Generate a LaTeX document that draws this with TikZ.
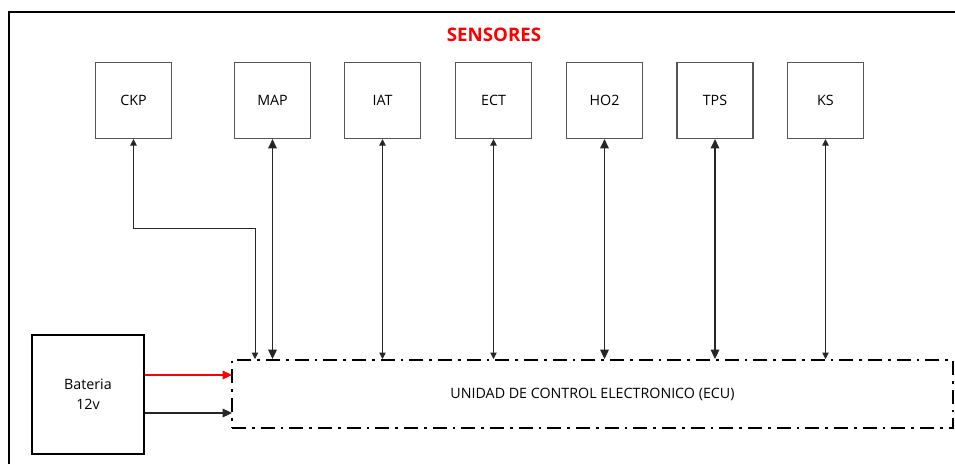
\documentclass[tikz,border=0pt]{standalone}
\usepackage{fontspec}
\setmainfont{Open Sans}
\usepackage{tikz}
\usetikzlibrary{arrows.meta,positioning}
\definecolor{red}{RGB}{255,0,0}
\definecolor{boxgray}{RGB}{85,85,85}

\begin{document}
\begin{tikzpicture}[x=0.75pt, y=-0.75pt,
    small/.style={{Triangle[length=4.8pt,width=4.8pt]}-{Triangle[length=4.8pt,width=4.8pt]}, line width=0.6pt, black!85},
    big/.style={{Triangle[length=7pt,width=6.5pt]}-{Triangle[length=7pt,width=6.5pt]}, line width=0.8pt, black!85},
    sensor/.style={draw=boxgray, line width=0.9pt, minimum size=57pt, inner sep=0pt, font=\fontsize{10.7}{12}\selectfont},
    txt/.style={font=\fontsize{10.7}{15}\selectfont}]
        \useasboundingbox (0,0) rectangle (955,464);
        % marco
        \draw[line width=1.6pt] (9,464) -- (9,12) -- (955,12);

        \node[red, font=\fontsize{14}{16}\selectfont\bfseries] (titulo) at (494,35) {SENSORES};

        % sensores
        \node[sensor] (ckp) at (133.5,100.5) {CKP};
        \node[sensor] (map) at (272.5,100.5) {MAP};
        \node[sensor] (iat) at (382.5,100.5) {IAT};
        \node[sensor] (ect) at (493.5,100.5) {ECT};
        \node[sensor] (hoo) at (604.5,100.5) {HO2};
        \node[sensor] (tps) at (715,100.5) {TPS};
        \node[sensor] (ks)  at (825.5,100.5) {KS};

        % ECU y bateria
        \node[draw, line width=1.5pt, dash pattern=on 10.5pt off 4.5pt on 2pt off 4.5pt,
              minimum width=540.75pt, minimum height=51pt, inner sep=0pt, txt] (ecu) at (592.5,394)
              {UNIDAD DE CONTROL ELECTRONICO (ECU)};
        \node[draw, line width=1.8pt, minimum width=84pt, minimum height=89pt, align=center, txt] (bat) at (88,394.5)
              {Bateria\\12v};

        \path
        (255,228) coordinate (ckpbend)
        (232,375) coordinate (rojo)
        (232,413) coordinate (negro)
        ;

        \draw[small] (ckp.south) |- (ckpbend) -- (ckpbend |- ecu.north);
        \draw[big] (map.south) -- (map.south |- ecu.north);
        \draw[small] (iat.south) -- (iat.south |- ecu.north);
        \draw[small] (ect.south) -- (ect.south |- ecu.north);
        \draw[big] (hoo.south) -- (hoo.south |- ecu.north);
        \draw[big] (tps.south) -- (tps.south |- ecu.north);
        \draw[small] (ks.south) -- (ks.south |- ecu.north);

        \draw[-{Triangle[length=7pt,width=6.5pt]}, red, line width=0.8pt] (bat.east |- rojo) -- (rojo);
        \draw[-{Triangle[length=7pt,width=6.5pt]}, line width=0.8pt, black!85] (bat.east |- negro) -- (negro);
\end{tikzpicture}
\end{document}
